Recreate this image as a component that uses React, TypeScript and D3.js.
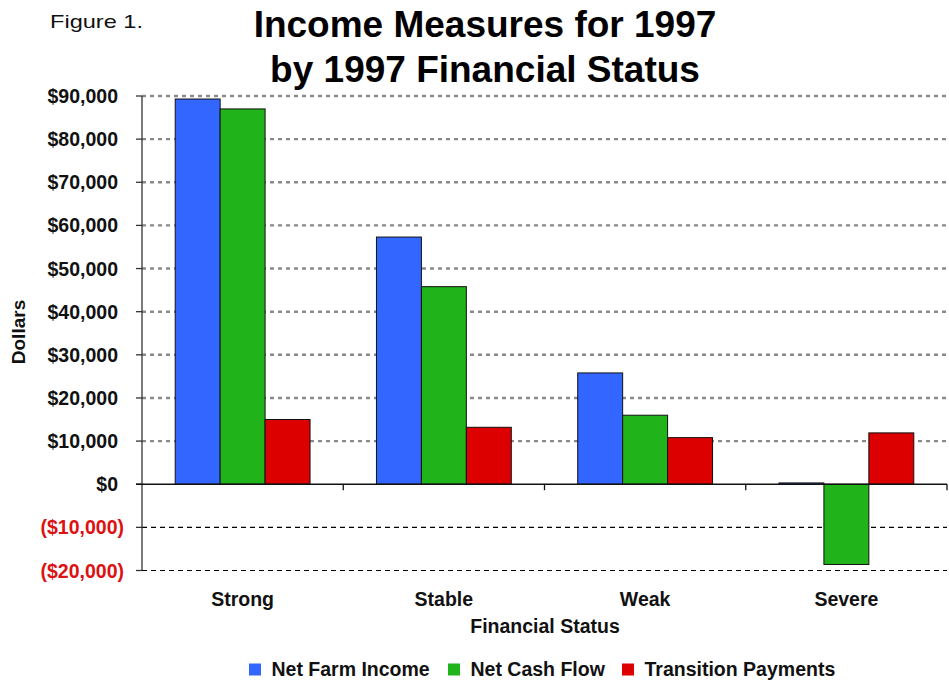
import React from "react";
import * as d3 from "d3";

const categories = ["Strong", "Stable", "Weak", "Severe"];
const seriesNames = ["Net Farm Income", "Net Cash Flow", "Transition Payments"];
const netFarmIncome = [89300, 57300, 25800, 300];
const netCashFlow = [87000, 45800, 16000, -18600];
const transitionPayments = [15000, 13200, 10800, 11900];
const yTicks = [-20000, -10000, 0, 10000, 20000, 30000, 40000, 50000, 60000, 70000, 80000, 90000];
const colors = ["#3366FF", "#20B31A", "#DD0000"];

const W = 949;
const H = 681;
const FONT = "'Liberation Sans', Arial, sans-serif";

function fmt(v: number) {
  const s = "$" + d3.format(",")(Math.abs(v));
  return v < 0 ? "(" + s + ")" : s;
}

export default function App() {
  const left = 142;
  const right = 947;
  const y = d3.scaleLinear().domain([-20000, 90000]).range([570.5, 96]);
  const x0 = d3.scaleBand<string>().domain(categories).range([left, right]).paddingInner(0).paddingOuter(0);
  const groupW = x0.bandwidth() * 0.67;
  const x1 = d3.scaleBand<string>().domain(seriesNames).range([0, groupW]);
  const series = [netFarmIncome, netCashFlow, transitionPayments];
  const zeroY = y(0);
  const legendX = [249, 448, 622];

  return (
    <svg width={W} height={H} style={{ position: "absolute", left: 0, top: 0, background: "#fff" }} fontFamily={FONT}>
      <rect x={0} y={0} width={W} height={H} fill="#fff" />
      <text x={50} y={28} fontSize={19} fill="#111" textLength={93} lengthAdjust="spacingAndGlyphs">Figure 1.</text>
      <text x={485} y={37} fontSize={37} fontWeight="bold" textAnchor="middle" fill="#000">Income Measures for 1997</text>
      <text x={485} y={82} fontSize={37} fontWeight="bold" textAnchor="middle" fill="#000">by 1997 Financial Status</text>

      {/* gridlines */}
      {yTicks.filter((t) => t !== 0).map((t) => (
        <line key={"g" + t} x1={left} x2={right} y1={y(t)} y2={y(t)}
          stroke={t > 0 ? "#8a8a8a" : "#000"} strokeWidth={t > 0 ? 2.4 : 1.2}
          strokeDasharray={t > 0 ? "4,4" : "5,4"} />
      ))}

      {/* bars */}
      {categories.map((c, i) => {
        const gx = (x0(c) as number) + (x0.bandwidth() - groupW) / 2;
        return series.map((s, j) => {
          const v = s[i];
          const yTop = y(Math.max(0, v));
          const h = Math.abs(y(v) - zeroY);
          return (
            <rect key={c + j} x={gx + (x1(seriesNames[j]) as number)} y={yTop}
              width={x1.bandwidth()} height={Math.max(h, 1)} fill={colors[j]}
              stroke="#111" strokeWidth={1} />
          );
        });
      })}

      {/* y axis */}
      <line x1={left} x2={left} y1={y(90000)} y2={y(-20000)} stroke="#333" strokeWidth={1.3} />
      {yTicks.map((t) => (
        <g key={"t" + t}>
          <line x1={left - 6} x2={left} y1={y(t)} y2={y(t)} stroke="#333" strokeWidth={1.3} />
          <text x={t < 0 ? 124 : 118} y={y(t)} dy="0.36em" textAnchor="end" fontSize={19.5} fontWeight="bold"
            fill={t < 0 ? "#DD1111" : "#111"}>{fmt(t)}</text>
        </g>
      ))}

      {/* zero axis */}
      <line x1={left - 6} x2={right} y1={zeroY} y2={zeroY} stroke="#111" strokeWidth={1.3} />
      {categories.map((c) => (
        <line key={"ct" + c} x1={(x0(c) as number) + x0.bandwidth()} x2={(x0(c) as number) + x0.bandwidth()}
          y1={zeroY} y2={zeroY + 6} stroke="#111" strokeWidth={1.3} />
      ))}

      {/* category labels */}
      {categories.map((c) => (
        <text key={"cl" + c} x={(x0(c) as number) + x0.bandwidth() / 2} y={605.5} textAnchor="middle"
          fontSize={19.5} fontWeight="bold" fill="#111">{c}</text>
      ))}
      <text x={545} y={632.5} textAnchor="middle" fontSize={19.5} fontWeight="bold" fill="#111">Financial Status</text>
      <text transform={`translate(25,332) rotate(-90)`} textAnchor="middle"
        fontSize={19} fontWeight="bold" fill="#111">Dollars</text>

      {/* legend */}
      {seriesNames.map((n, j) => {
        const lx = legendX[j];
        return (
          <g key={"lg" + n}>
            <rect x={lx} y={663.5} width={12} height={12} fill={colors[j]} />
            <text x={lx + 22.5} y={676} fontSize={19.5} fontWeight="bold" fill="#111">{n}</text>
          </g>
        );
      })}
    </svg>
  );
}
